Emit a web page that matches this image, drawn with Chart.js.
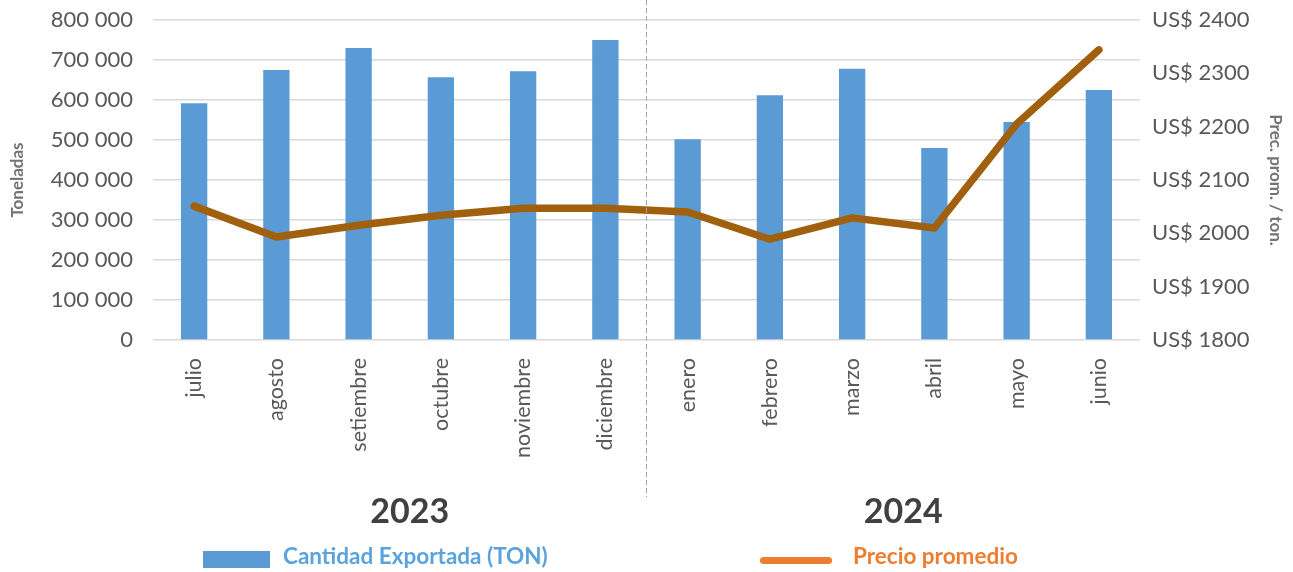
<!DOCTYPE html>
<html>
<head>
<meta charset="utf-8">
<script src="https://cdn.jsdelivr.net/npm/chart.js@4.4.0/dist/chart.umd.min.js"></script>
<style>
  html, body { margin: 0; padding: 0; background: #fff; }
  #wrap { position: relative; width: 1293px; height: 572px; }
  canvas { position: absolute; left: 0; top: 0; }
  .leg { position: absolute; font-family: Lato, sans-serif; font-weight: bold; font-size: 22.5px; }
</style>
</head>
<body>
<div id="wrap">
  <canvas id="chart" width="1293" height="572"></canvas>
  <div class="leg" style="left:203px;top:551px;width:67px;height:17px;background:#5b9bd5"></div>
  <div class="leg" style="left:283px;top:542px;color:#5ba3dc">Cantidad Exportada (TON)</div>
  <div class="leg" style="left:760px;top:557px;width:72px;height:7px;border-radius:4px;background:#ed7d31"></div>
  <div class="leg" style="left:853px;top:542px;color:#ed7d31">Precio promedio</div>
</div>
<script>
const months = ["julio", "agosto", "setiembre", "octubre", "noviembre", "diciembre",
                "enero", "febrero", "marzo", "abril", "mayo", "junio"];
const years = ["2023", "2024"];
const cantidad = [592000, 675000, 730000, 657000, 672000, 750000,
                  502000, 612000, 678000, 480000, 545000, 625000];
const precio = [2051, 1993, 2015, 2034, 2047, 2047,
                2040, 1989, 2029, 2010, 2205, 2344];

const grey = "#595959";

// divider line between the two years + year labels under the month names
const yearPlugin = {
  id: "years",
  afterDraw(chart) {
    const ctx = chart.ctx;
    const x = chart.scales.x;
    const divX = (x.getPixelForValue(5) + x.getPixelForValue(6)) / 2;
    ctx.save();
    ctx.strokeStyle = "#a6a6a6";
    ctx.lineWidth = 1;
    ctx.setLineDash([5, 3]);
    ctx.beginPath();
    ctx.moveTo(divX, 0);
    ctx.lineTo(divX, 497);
    ctx.stroke();
    ctx.setLineDash([]);
    ctx.fillStyle = "#404040";
    ctx.font = "bold 34px Lato";
    ctx.textAlign = "center";
    ctx.textBaseline = "middle";
    const c1 = (x.left + divX) / 2 + 10;
    const c2 = (divX + x.right) / 2 + 10;
    ctx.fillText(years[0], c1, 512);
    ctx.fillText(years[1], c2, 512);
    ctx.restore();
  }
};

const fmt = v => String(v).replace(/\B(?=(\d{3})+(?!\d))/g, " ");

// fixed axis boxes so the plot area sits where it does in the picture
function fixV(s) { s.width = 153; s.paddingTop = 0; s.paddingBottom = 0; }

new Chart(document.getElementById("chart"), {
  data: {
    labels: months,
    datasets: [
      {
        type: "line",
        label: "Precio promedio",
        data: precio,
        yAxisID: "y1",
        borderColor: "#a0600e",
        borderWidth: 7.5,
        borderCapStyle: "round",
        borderJoinStyle: "round",
        pointRadius: 0,
        tension: 0,
        order: 0
      },
      {
        type: "bar",
        label: "Cantidad Exportada (TON)",
        data: cantidad,
        yAxisID: "y",
        backgroundColor: "#5b9bd5",
        barPercentage: 0.32,
        categoryPercentage: 1,
        order: 1
      }
    ]
  },
  options: {
    responsive: false,
    animation: false,
    layout: { padding: { top: 20, left: 0, right: 0, bottom: 0 } },
    plugins: { legend: { display: false }, tooltip: { enabled: false } },
    scales: {
      x: {
        grid: { display: false },
        border: { display: false },
        ticks: {
          color: grey,
          font: { family: "Lato", size: 21.5 },
          minRotation: 90,
          maxRotation: 90,
          padding: 10
        },
        afterFit(s) { s.height = 232; s.paddingLeft = 0; s.paddingRight = 0; }
      },
      y: {
        position: "left",
        min: 0,
        max: 800000,
        grid: { color: "#d9d9d9", lineWidth: 1.5, drawTicks: false },
        border: { display: false },
        ticks: {
          stepSize: 100000,
          color: grey,
          font: { family: "Lato", size: 22 },
          padding: 20,
          callback: v => fmt(v)
        },
        title: {
          display: true,
          text: "Toneladas",
          color: "#737373",
          font: { family: "Lato", size: 17, weight: "bold" },
          padding: { top: 7, bottom: 0 }
        },
        afterFit: fixV
      },
      y1: {
        position: "right",
        min: 1800,
        max: 2400,
        grid: { display: false },
        border: { display: false },
        ticks: {
          stepSize: 100,
          color: grey,
          font: { family: "Lato", size: 22 },
          padding: 4,
          callback: v => "US$ " + v
        },
        title: {
          display: true,
          text: "Prec. prom. / ton.",
          color: "#737373",
          font: { family: "Lato", size: 17, weight: "bold" },
          padding: { top: 7, bottom: 0 }
        },
        afterFit: fixV
      }
    }
  },
  plugins: [yearPlugin]
});
</script>
</body>
</html>
